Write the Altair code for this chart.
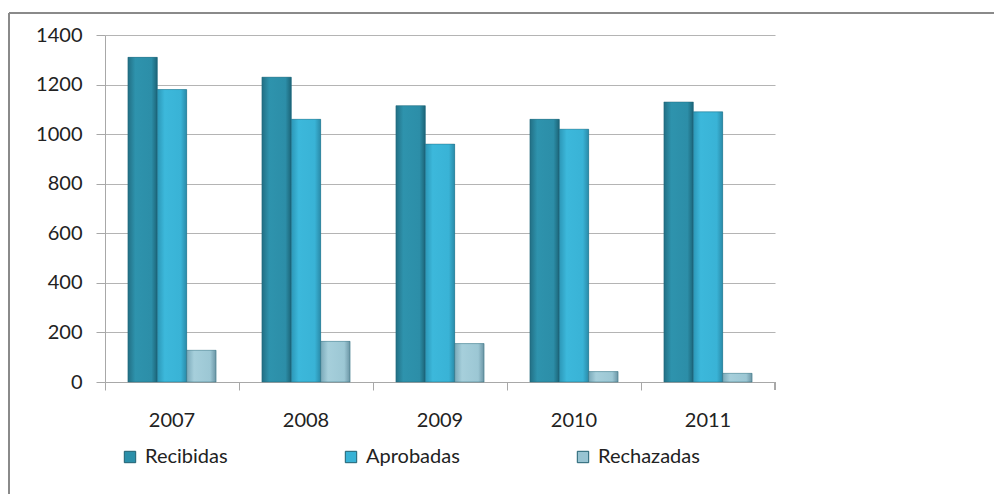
import altair as alt
import pandas as pd

years = ["2007", "2008", "2009", "2010", "2011"]
series = ["Recibidas", "Aprobadas", "Rechazadas"]
recibidas = [1310, 1230, 1115, 1060, 1130]
aprobadas = [1180, 1060, 960, 1020, 1090]
rechazadas = [128, 164, 155, 42, 35]
colors = ["#2b8fa9", "#38b2d5", "#98c4d2"]
gradients = [
    ["#226f84", "#2e93ad", "#2c8ea8", "#1c6477"],
    ["#2c97b7", "#3cb8db", "#39b3d6", "#2a8aa8"],
    ["#7aa9b9", "#a6cfdb", "#9cc7d4", "#6b95a5"],
]

rows = []
for i, y in enumerate(years):
    for s, vals in zip(series, [recibidas, aprobadas, rechazadas]):
        rows.append({"Año": y, "Serie": s, "Valor": vals[i]})
df = pd.DataFrame(rows)

W, H = 670, 347
FONT = "Lato"

x_enc = alt.X("Año:N", sort=years, title=None,
              scale=alt.Scale(paddingInner=0, paddingOuter=0),
              axis=alt.Axis(labelAngle=0, bandPosition=0, ticks=True, tickSize=8,
                            tickColor="#a8a8a8", domainColor="#a8a8a8",
                            labelPadding=20, labelFontSize=20, labelFont=FONT,
                            labelColor="#222222", labelAlign="center"))
xo_enc = alt.XOffset("Serie:N", sort=series,
                     scale=alt.Scale(domain=series, paddingInner=0, paddingOuter=0.78))
y_enc = alt.Y("Valor:Q", title=None,
              scale=alt.Scale(domain=[0, 1400]),
              axis=alt.Axis(values=[0, 200, 400, 600, 800, 1000, 1200, 1400],
                            format="d",
                            tickSize=9, tickColor="#a8a8a8", domainColor="#a8a8a8",
                            gridColor="#b4b4b4", gridWidth=1.2,
                            labelPadding=14, labelFontSize=20, labelFont=FONT,
                            labelColor="#222222"))

bars = alt.Chart(df).mark_bar().encode(
    x=x_enc, xOffset=xo_enc, y=y_enc,
    color=alt.Color("Serie:N", sort=series,
                    scale=alt.Scale(domain=series, range=colors),
                    legend=alt.Legend(title=None, orient="none", direction="horizontal",
                                      legendX=15, legendY=412, columns=3,
                                      symbolType="square", symbolSize=130,
                                      symbolStrokeColor="#1f5f70", symbolStrokeWidth=1,
                                      columnPadding=113, labelFontSize=20,
                                      labelFont=FONT, labelColor="#222222",
                                      labelOffset=5, labelLimit=300)),
)

overlays = []
for s, g in zip(series, gradients):
    grad = alt.Gradient(
        gradient="linear", x1=0, x2=1, y1=0, y2=0,
        stops=[alt.GradientStop(color=g[0], offset=0),
               alt.GradientStop(color=g[1], offset=0.25),
               alt.GradientStop(color=g[2], offset=0.8),
               alt.GradientStop(color=g[3], offset=1)])
    overlays.append(
        alt.Chart(df).transform_filter(alt.datum.Serie == s)
        .mark_bar(fill=grad, stroke="#1f5f70", strokeWidth=0.8, strokeOpacity=0.5)
        .encode(x=x_enc, xOffset=xo_enc, y=y_enc)
    )

end_tick = alt.Chart(df).mark_rule(color="#a8a8a8").encode(
    x=alt.value(W), y=alt.value(H), y2=alt.value(H + 8))

frame_top = alt.Chart(df).mark_rule(color="#8a8a8a", strokeWidth=2).encode(
    x=alt.value(-96), x2=alt.value(900), y=alt.value(-22))
frame_left = alt.Chart(df).mark_rule(color="#8a8a8a", strokeWidth=2).encode(
    x=alt.value(-96), y=alt.value(-22), y2=alt.value(470))

chart = alt.layer(frame_top, frame_left, bars, *overlays, end_tick).properties(
    width=W, height=H,
    autosize=alt.AutoSizeParams(type="none"),
    padding={"left": 105, "top": 35, "right": 994 - 105 - W, "bottom": 494 - 35 - H},
    background="white",
).configure_view(stroke=None)

chart.save("out.html", embed_options={"renderer": "svg", "actions": False})
